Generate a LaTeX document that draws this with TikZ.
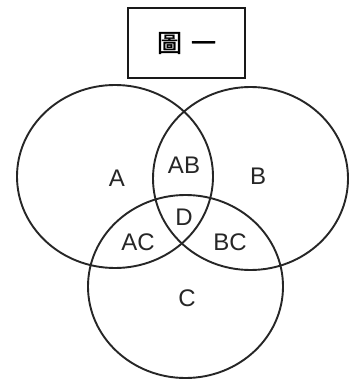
\documentclass[tikz,border=0pt]{standalone}
\usepackage{fontspec}
\setmainfont{Liberation Sans}
\newfontfamily\cjk[FakeBold=1.5]{Noto Sans CJK TC}
\begin{document}
\begin{tikzpicture}[x=1pt,y=-1pt,
  setcircle/.style={draw=black!85,line width=1.9pt},
  lbl/.style={font=\fontsize{24}{28}\selectfont,text=black!85,inner sep=0pt},
  titlebox/.style={draw=black!90,line width=2pt,minimum width=117pt,minimum height=70pt,inner sep=0pt}]
\useasboundingbox[fill=white] (0,0) rectangle (356,379);
\node[titlebox,font=\cjk\fontsize{25}{28}\selectfont] (title) at (186.5,43) {圖\hspace{9pt}一};
\draw[setcircle] (115,176.5) ellipse [x radius=98, y radius=91.5];
\draw[setcircle] (250.5,178.5) ellipse [x radius=97.5, y radius=91.5];
\draw[setcircle] (185.5,286.5) ellipse [x radius=97.5, y radius=91.5];
\node[lbl] (A) at (117,178) {A};
\node[lbl] (AB) at (184,165) {AB};
\node[lbl] (B) at (258,176) {B};
\node[lbl] (D) at (184,217) {D};
\node[lbl] (AC) at (138,242) {AC};
\node[lbl] (BC) at (230,242) {BC};
\node[lbl] (C) at (187,298) {C};
\end{tikzpicture}
\end{document}
